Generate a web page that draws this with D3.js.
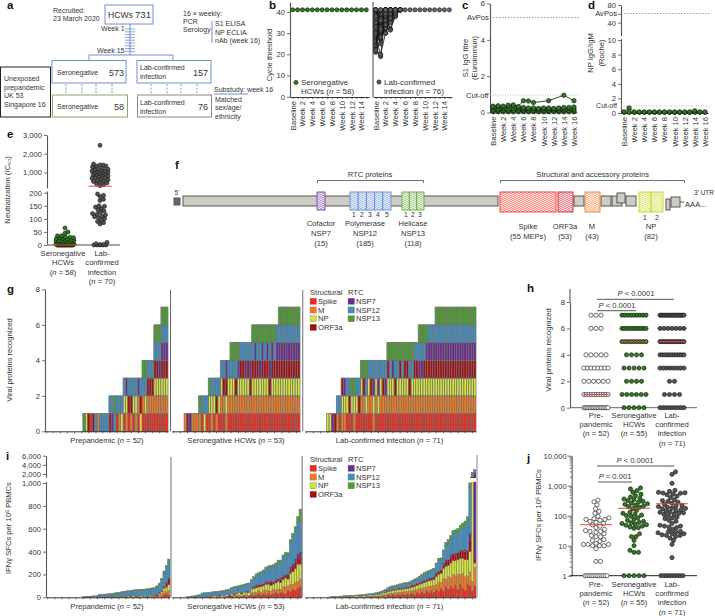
<!DOCTYPE html>
<html>
<head>
<meta charset="utf-8">
<script src="https://cdn.jsdelivr.net/npm/d3@7"></script>
<style>
  body { margin: 0; background: #fff; }
  text { font-family: "Liberation Sans", Arial, sans-serif; font-size: 7.6px; fill: #333; }
</style>
</head>
<body>
<div id="chart"></div>
<script>
// ---- data ----
var weekLabels = ['Baseline','','Week 2','','Week 4','','Week 6','','Week 8','','Week 10','','Week 12','','Week 14','','Week 16'];
var ctUndetected = 41;
// PCR cycle threshold from baseline until negative again
var labCtTraces = [[21,27,41],[23,19,41],[28,20,30,41],[25,30,35,41],[30,28,33,38,41],[33,25,36,41],[35,30,36,41],
  [38,32,37,41],[41,35,38,41],[40,29,34,39,41],[27,33,37,41],[29,36,33,38,41],[31,34,38,41],[36,28,35,40,41],[39,37,41],
  [34,38,32,37,41],[37,31,36,41],[26,35,41],[32,39,41],[24,40,41],[41,33,37,32,39,41],[41,38,39,31.5,38,41],
  [41,36,30,36,40,41],[35,37,38,35,38,41],[38,39,36,39,40,41],[30,32,34,37,39,41],[22,41],[33,36,39,37,40,41]];

var s1Traces = [
  [.05,.05,.06,.05,.05,.06,.05,.05,.06,.05,.05,.05,.06,.05,.05,.06,.05],
  [.1,.12,.1,.1,.12,.1,.12,.1,.1,.12,.1,.1,.12,.1,.12,.1,.1],
  [.2,.2,.22,.2,.22,.2,.2,.2,.2,.2,.2,.2,.2,.2,.2,.22,.2],
  [.3,.33,.3,.33,.35,.28,.28,.25,.25,.22,.25,.25,.22,.25,.28,.28,.3],
  [.35,.37,.35,.4,.42,.33,.65,.63,.55,null,null,.65,null,null,.95,null,.65]
];
var npTraces = [
  [.1,.1,.1,.1,.1,.1,.1,.1,.1,.1,.1,.1,.1,.1,.1,.1,.1],
  [.15,.7,.15,.15,.15,.15,.15,.15,.15,.15,.15,.15,.15,.15,.3,.15,.15]
];

var neutSero = [65,50,45,35,35,30,30,28,28,25,25,22,20,20,18,18,16,15,15,12,12,12,10,10,10,8,8,8,5,5,5,5,3,3,3,2,2,2,
  0,0,0,0,0,0,0,0,0,0,0,0,0,0,0,0,0,0,0,0];
var neutLab = [2450,1450,1400,1400,1350,1350,1300,1250,1200,1180,1150,1100,1100,1080,1050,1020,1000,1000,950,950,900,880,
  850,820,800,750,720,700,650,620,600,550,520,500,450,400,350,300,195,190,185,175,170,150,148,145,140,135,130,125,120,118,115,
  110,108,105,100,95,90,85,80,10,5,2,2,0,0,0,0,0];
var neutMedians = [0, 270];

var proteins = ['Spike','M','NP','ORF3a','NSP7','NSP12','NSP13'];
var proteinCodes = ['S','M','N','O','7','2','3'];
var proteinColours = ['#ee2a1c','#ee7a22','#d3e23f','#a50f14','#6a2c90','#3f8fc2','#4aa02c'];

// panel g, one string per donor, one character per recognised protein
var gPreEmpty = 16;
var gPre = ['3','N','O','S','O','2','M','2','2','2','2',
  'O2','72','32','S2','M2','N2',
  'SN2','MN7','SO2','MO2','SN2','MN2','SM7','NO2',
  'SM23','SN23','SMO2','SMO2','SMO2',
  'SMNO23','SMNO23','SMN723',
  'SMNO723','SMNO723','SMNO723'];
var gSeroEmpty = 5;
var gSero = ['M','O','7','M','M','M',
  'M3','S2','N2','S2',
  'SN3','MN2','SN2','MO2','SN2',
  'SMN2','SMO2','MNO7','SMN2',
  'SMN23','SMN23','SMO23','SMN73','SMNO2','SMNO2','SMN72','SMNO2','SMO72',
  'SMNO23','SMNO73','SMNO23','SMN723','SMNO73','SMNO23','SMNO73','SMO723','SMNO73','SMNO23','SMNO72',
  'SMNO723','SMNO723','SMNO723','SMNO723','SMNO723','SMNO723','SMNO723','SMNO723','SMNO723'];
var gLabEmpty = 9;
var gLab = ['N','N','7','O',
  'M2','S2',
  'MNO','MN7','SN2','SO2','SN3','MN3','SN2','SO2',
  'SMN3','SMO3','SN23','SMN2','SMO2','MN72','SMN2','SN72','SMN2','SMO2','SM72',
  'SMNO3','SMN23','SMN73','SMO23','SMN23','SMNO3','SMN23','SMNO3','SMNO3','SMO23','SMN23','SMNO2','SMNO2',
  'SMN723','SMN723','SMNO23','SMNO73','SMNO72','SMNO72','SMNO72',
  'SMNO723','SMNO723','SMNO723','SMNO723','SMNO723','SMNO723','SMNO723','SMNO723','SMNO723',
  'SMNO723','SMNO723','SMNO723','SMNO723','SMNO723','SMNO723','SMNO723','SMNO723'];
var recognisedMedians = [1, 5, 5];

// panel i, per donor: Spike, M, NP, ORF3a, NSP7, NSP12, NSP13
var iPreEmpty = 15;
var iPre = [[0,0,0,0,0,6,0],[0,2,0,0,0,6,0],[3,0,0,0,0,6,0],[0,0,0,0,4,6,0],[0,0,0,0,0,12,0],[0,0,6,0,0,8,0],
  [0,0,0,0,0,18,0],[0,0,0,0,4,16,4],[0,6,0,0,0,20,0],[0,0,0,6,0,22,0],[0,0,0,0,0,24,6],[4,0,0,0,6,22,0],
  [0,0,0,0,8,19,8],[0,6,0,0,0,26,6],[0,0,0,0,0,28,12],[0,0,8,0,0,24,12],[6,0,0,4,0,30,8],[0,0,10,0,6,28,8],
  [0,8,0,0,0,39,8],[0,0,12,0,0,38,8],[8,0,0,6,0,40,6],[0,0,14,0,0,44,6],[0,10,0,0,6,50,0],[0,0,0,8,0,52,8],
  [0,0,16,0,4,44,6],[0,12,0,0,0,52,6],[6,0,8,0,0,52,6],[0,0,0,0,10,57,8],[0,14,10,0,0,46,8],[8,0,0,0,0,66,8],
  [0,16,0,8,0,55,6],[20,0,0,0,8,60,12],[0,20,16,10,0,62,17],[0,30,20,12,0,90,13],[24,26,30,14,0,110,26],
  [30,20,40,40,10,130,10],[20,40,50,50,15,125,35]];
var iSeroEmpty = 6;
var iSero = [[0,0,0,0,0,5,0],[0,0,3,0,0,5,0],[0,0,0,4,0,8,0],[0,4,0,0,0,12,0],[0,0,0,0,6,14,0],[6,0,0,0,0,20,0],
  [0,0,8,0,0,24,6],[0,6,0,0,0,34,0],[0,0,0,6,0,30,6],[8,0,0,0,0,36,0],[0,12,0,6,0,30,0],[0,0,14,0,0,30,6],
  [0,16,0,0,6,24,6],[12,0,0,8,0,35,0],[0,0,16,0,0,32,10],[0,14,0,0,0,38,10],[10,0,14,0,0,36,8],[0,0,0,20,0,42,10],
  [12,0,18,0,0,45,10],[0,20,0,15,0,50,10],[14,0,20,0,8,46,10],[0,18,22,0,0,55,10],[10,0,20,15,0,53,10],
  [20,0,26,0,0,59,10],[0,24,18,14,0,54,10],[14,0,30,0,6,65,10],[22,18,30,0,0,75,10],[16,24,36,20,0,74,10],
  [24,20,40,16,10,85,10],[30,26,34,20,0,90,15],[20,24,50,18,10,88,15],[30,30,40,20,0,105,15],[24,40,50,16,12,108,15],
  [36,20,60,20,0,119,20],[20,34,50,30,14,112,20],[30,40,46,20,0,129,20],[40,26,60,24,10,120,20],[30,40,70,25,0,140,20],
  [44,24,60,30,12,136,20],[40,50,64,26,14,156,20],[30,60,80,30,0,170,20],[60,40,60,36,15,160,20],[50,60,100,40,20,205,30],
  [70,44,110,50,20,236,30],[60,70,120,60,30,238,40],[80,60,150,60,30,275,50],[90,70,130,70,40,272,100]];
var iLabEmpty = 10;
var iLab = [[0,0,5,0,0,0,0],[0,0,0,6,0,0,0],[0,4,4,0,0,0,0],[0,0,10,0,0,0,0],[4,0,6,0,0,0,0],[0,6,6,0,0,0,0],
  [0,0,8,0,0,6,0],[10,0,5,0,0,0,0],[0,0,10,6,0,0,0],[0,8,0,0,0,10,0],[6,0,12,0,0,0,0],[0,0,14,0,0,6,0],
  [0,10,6,0,0,6,0],[8,0,8,6,0,0,0],[0,0,15,0,0,10,0],[0,8,10,0,0,10,0],[6,0,14,0,0,10,0],[0,10,12,0,0,10,0],
  [8,0,12,5,0,10,0],[0,12,14,0,0,14,0],[10,0,15,0,0,12,8],[0,14,16,0,0,12,8],[12,10,18,0,0,14,6],[0,20,20,0,8,14,8],
  [20,10,20,10,0,15,10],[15,20,20,8,0,22,10],[24,12,24,10,0,20,10],[18,22,22,8,0,25,10],[26,14,28,10,0,22,10],
  [20,24,24,12,0,28,10],[30,16,26,10,0,30,10],[20,30,24,14,0,30,10],[34,16,28,10,6,26,10],[22,30,30,12,0,31,10],
  [36,20,34,18,0,32,10],[24,40,32,14,0,40,10],[44,24,36,16,6,34,10],[30,44,40,18,0,43,10],[50,26,44,20,0,50,10],
  [34,50,46,20,0,50,15],[56,30,50,22,0,52,15],[40,56,48,16,10,50,15],[60,34,56,20,0,60,15],[44,60,50,24,0,62,15],
  [70,40,70,30,10,65,15],[50,80,70,30,0,90,20],[80,50,80,30,0,85,20],[60,100,90,40,15,90,20],[90,70,110,40,20,120,30],
  [70,110,100,50,0,145,30],[100,70,130,50,20,140,30],[80,120,120,60,0,173,30],[110,80,130,50,20,170,30],
  [70,130,130,60,0,180,30],[120,80,140,60,20,182,30],[80,130,130,70,0,200,40],[60,120,150,70,20,207,40],
  [120,70,140,80,0,245,50],[100,120,180,100,60,400,40],[60,80,1600,80,80,400,100],[100,160,40,40,1900,760,0]];

// panel j
var sfcPre = [1,1,1,1,1,1,1,1,1,1,1,1,3,3,8,10,10,10,11,11,11,12,14,15,16,20,20,22,25,28,30,30,32,35,40,45,50,55,60,65,
  70,75,75,80,85,95,120,140,170,230,290,330];
var sfcSero = [1,1,1,1,1,6,6,7,10,15,20,20,25,38,40,42,45,48,50,52,55,58,60,65,70,75,85,95,100,105,110,120,130,150,170,190,
  200,210,220,240,250,260,280,300,320,340,360,380,420,460,520,600,680,780,840];
var sfcLab = [1,1,1,1,1,1,1,1,1,4,11,15,18,20,22,22,23,25,25,27,28,30,30,35,40,42,45,45,48,55,65,70,80,85,90,100,110,115,120,
  125,130,135,140,150,160,170,175,180,190,200,210,220,240,260,280,300,320,340,400,450,500,520,560,570,580,600,650,700,1200,2400,2900];
var sfcMedians = [50, 177, 250];

var groupLabels = ['Prepandemic (*n* = 52)','Seronegative HCWs (*n* = 53)','Lab-confirmed infection (*n* = 71)'];

// ---- helpers ----
var svg = d3.select('#chart').append('svg')
  .attr('width', 715)
  .attr('height', 616)
  .style('display', 'block');

// *word* in a label comes out in italics
function label(parent, x, y, str, anchor, size) {
  var t = parent.append('text')
    .attr('x', x)
    .attr('y', y)
    .attr('text-anchor', anchor || 'start');
  if (size) t.style('font-size', size + 'px');
  str.split('*').forEach(function(part, i) {
    t.append('tspan').text(part).style('font-style', i % 2 ? 'italic' : 'normal');
  });
  return t;
}

function vlabel(x, y, str) {
  return label(svg, 0, 0, str, 'middle').attr('transform', 'translate(' + x + ',' + y + ') rotate(-90)');
}

function panelLetter(letter, x, y) {
  label(svg, x, y, letter, 'start', 11.5).style('font-weight', 'bold').style('fill', '#111');
}

function line(parent, x1, y1, x2, y2, colour, w, dash) {
  return parent.append('line')
    .attr('x1', x1).attr('y1', y1).attr('x2', x2).attr('y2', y2)
    .attr('stroke', colour || '#333')
    .attr('stroke-width', w || 1)
    .attr('stroke-dasharray', dash || null);
}

function styleAxis(g, colour, width) {
  g.attr('font-family', null).attr('font-size', null);
  g.select('.domain').attr('stroke', colour || '#555').attr('stroke-width', width || 1.1);
  g.selectAll('.tick line').attr('stroke', '#333').attr('stroke-width', 0.7);
  g.selectAll('.tick text').attr('fill', null);
  return g;
}

function yAxis(x, scale, values, format) {
  var g = svg.append('g')
    .attr('transform', 'translate(' + x + ',0)')
    .call(d3.axisLeft(scale).tickValues(values).tickSize(3).tickSizeOuter(0).tickPadding(2).tickFormat(format || d3.format(',')));
  return styleAxis(g);
}

function weekAxis(y, scale) {
  var g = svg.append('g')
    .attr('transform', 'translate(0,' + y + ')')
    .call(d3.axisBottom(scale).tickSize(2).tickSizeOuter(0).tickFormat(function(d) { return weekLabels[d]; }));
  styleAxis(g, '#222', 0.9);
  g.selectAll('.tick text')
    .attr('transform', 'rotate(-90)')
    .attr('x', -4)
    .attr('y', 0)
    .attr('dy', '.32em')
    .attr('text-anchor', 'end');
}

function dots(parent, data, cx, cy, fill, r) {
  parent.selectAll(null)
    .data(data)
    .enter().append('circle')
    .attr('cx', cx)
    .attr('cy', cy)
    .attr('r', r)
    .attr('fill', fill)
    .attr('stroke', '#111')
    .attr('stroke-width', 0.6);
}

function traces(data, xs, y, fill) {
  data.forEach(function(tr) {
    var keep = tr.map(function(v, i) { return { v: v, i: i }; }).filter(function(d) { return d.v != null; });
    svg.append('path')
      .attr('d', d3.line().x(function(d) { return xs(d.i); }).y(function(d) { return y(d.v); })(keep))
      .attr('fill', 'none')
      .attr('stroke', '#111')
      .attr('stroke-width', 0.8);
    dots(svg, keep, function(d) { return xs(d.i); }, function(d) { return y(d.v); }, fill, 2.2);
  });
}

// horizontal offsets of a swarm; the floor value is laid out in one flat row
function swarm(values, y, floor, rowWidth, maxW, r) {
  var placed = [];
  var onFloor = values.filter(function(v) { return v === floor; }).length;
  var k = 0;
  return values.slice().sort(d3.ascending).map(function(v) {
    var yy = y(v), off;
    if (v === floor) {
      off = onFloor > 1 ? (k - (onFloor - 1) / 2) * Math.min(rowWidth / (onFloor - 1), 5) : 0;
      k++;
      return { v: v, y: yy, off: off };
    }
    var best = 0, bestD = -1;
    for (var s = 0; s <= maxW * 4; s++) {
      var c = (s % 2 ? 1 : -1) * Math.ceil(s / 2) * 0.5;
      var dmin = d3.min(placed, function(p) { return Math.hypot(p.off - c, p.y - yy); });
      if (dmin === undefined) dmin = 99;
      if (dmin >= r * 2) { best = c; bestD = dmin; break; }
      if (dmin > bestD) { best = c; bestD = dmin; }
    }
    placed.push({ off: best, y: yy });
    return { v: v, y: yy, off: best };
  });
}

// ---- a ----
panelLetter('a', 7, 9);
var blue = '#6f8fd0';
function box(x, y, w, h, colour) {
  svg.append('rect').attr('x', x).attr('y', y).attr('width', w).attr('height', h)
    .attr('fill', '#fff').attr('stroke', colour).attr('stroke-width', 1);
}
label(svg, 53, 13, 'Recruited:', 'start', 7);
label(svg, 53, 21, '23 March 2020', 'start', 7);
line(svg, 130, 24, 130, 55, blue);
d3.range(29, 53, 2.8).forEach(function(y) { line(svg, 125, y, 135, y, blue, 0.8); });
box(105, 5, 48, 19, blue);
label(svg, 108, 18, 'HCWs', 'start', 8.6);
label(svg, 151, 18, '731', 'end', 9.6);
label(svg, 101, 31, 'Week 1', 'start', 7);
label(svg, 97, 53, 'Week 15', 'start', 7);
line(svg, 89, 55, 173, 55, blue);
line(svg, 89, 55, 89, 60, blue);
line(svg, 173, 55, 173, 60, blue);
[66, 82, 96, 112, 151, 167, 181, 197].forEach(function(x) { line(svg, x, 84, x, 95, blue, 0.9, '2,1.5'); });
box(52, 60.5, 74, 22.5, blue);
box(137, 60.5, 74, 22.5, blue);
box(52.5, 95, 75, 22, '#8aa86a');
box(137.5, 95, 74, 22, '#888');
box(0.5, 67, 50, 50, '#222');
['Unexposed','prepandemic','UK 53','Singapore 16'].forEach(function(s, i) { label(svg, 4, 81 + i * 8.7, s, 'start', 7); });
label(svg, 57, 75, 'Seronegative', 'start', 7);
label(svg, 124, 75.5, '573', 'end', 9);
label(svg, 140, 70, 'Lab-confirmed', 'start', 7);
label(svg, 140, 79, 'infection', 'start', 7);
label(svg, 208, 76, '157', 'end', 9);
label(svg, 57, 109, 'Seronegative', 'start', 7);
label(svg, 124, 109.5, '58', 'end', 9);
label(svg, 140, 105, 'Lab-confirmed', 'start', 7);
label(svg, 140, 114, 'infection', 'start', 7);
label(svg, 208, 110, '76', 'end', 9);
label(svg, 183, 16, '16 \u00d7 weekly:', 'start', 7);
label(svg, 183, 24, 'PCR', 'start', 7);
label(svg, 183, 32, 'Serology', 'start', 7);
line(svg, 212, 21, 212, 43, blue);
label(svg, 215, 26, 'S1 ELISA', 'start', 7);
label(svg, 215, 35, 'NP ECLIA', 'start', 7);
label(svg, 215, 43, 'nAb (week 16)', 'start', 7);
label(svg, 214, 92, 'Substudy: week 16', 'start', 7);
line(svg, 214, 94, 248, 94, blue);
label(svg, 215, 102, 'Matched', 'start', 7);
label(svg, 215, 110, 'sex/age/', 'start', 7);
label(svg, 215, 119, 'ethnicity', 'start', 7);

// ---- b ----
panelLetter('b', 269, 9);
var ctY = d3.scaleLinear().domain([0, 44.7]).range([96.7, 2]);
var ctWeeks = d3.range(16);
var ctLeft = d3.scalePoint().domain(ctWeeks).range([290, 369]).padding(0.55);
var ctRight = d3.scalePoint().domain(ctWeeks).range([373, 452]).padding(0.55);
yAxis(290, ctY, [0, 10, 20, 30, 40], d3.format('d'));
line(svg, 373, 2, 373, 97, '#555', 1.1);
weekAxis(97, ctLeft);
weekAxis(97, ctRight);
vlabel(272, 55, 'Cycle threshold');
svg.append('path')
  .attr('d', d3.line().x(ctLeft).y(ctY(ctUndetected))(ctWeeks))
  .attr('stroke', '#111').attr('stroke-width', 0.6).attr('fill', 'none');
dots(svg, ctWeeks, ctLeft, ctY(ctUndetected), '#2e7d1e', 2.1);
traces(labCtTraces, ctRight, ctY, '#555');
dots(svg, ctWeeks, ctRight, ctY(ctUndetected), '#666', 2.1);
dots(svg, [0], 296, 82.5, '#2e7d1e', 2.1);
label(svg, 301, 85, 'Seronegative', 'start', 8);
label(svg, 301, 94, 'HCWs (*n* = 58)', 'start', 8);
dots(svg, [0], 379, 82, '#555', 2.1);
label(svg, 384, 84.5, 'Lab-confirmed', 'start', 8);
label(svg, 384, 93.5, 'infection (*n* = 76)', 'start', 8);

// ---- c ----
panelLetter('c', 462, 9);
var s1Y = d3.scaleLinear().domain([0, 6]).range([112.5, 3.5]);
var weeks17 = d3.range(17);
var s1X = d3.scalePoint().domain(weeks17).range([490, 577]).padding(0.6);
yAxis(490, s1Y, [0, 2, 4, 6], d3.format('d'));
weekAxis(112.5, s1X);
line(svg, 490, 17.5, 580, 17.5, '#777', 0.7, '1.5,1.5');
line(svg, 490, 95, 580, 95, '#999', 0.7, '1,1.5');
label(svg, 467, 19.5, 'AvPos');
label(svg, 466, 97.5, 'Cut-off');
vlabel(468, 58, 'S1 IgG titre');
vlabel(477, 58, '(Euroimmun)');
traces(s1Traces, s1X, s1Y, '#2e7d1e');

// ---- d ----
panelLetter('d', 588, 9);
var npY = d3.scaleLinear().domain([0, 10, 12, 80]).range([113, 40, 35, 5]);
var npX = d3.scalePoint().domain(weeks17).range([621, 708]).padding(0.6);
// the 60 tick carries no number, AvPos sits there
yAxis(621, npY, [0, 2, 4, 6, 8, 10, 40, 60, 80], function(d) { return d === 60 ? '' : d; });
svg.append('rect').attr('x', 619).attr('y', 36).attr('width', 4).attr('height', 3).attr('fill', '#fff');
weekAxis(113, npX);
line(svg, 621, 13.5, 710, 13.5, '#777', 0.7, '1.5,1.5');
line(svg, 621, 106, 710, 106, '#999', 0.7, '1,1.5');
label(svg, 617, 15.8, 'AvPos', 'end');
label(svg, 617, 108, 'Cut-off', 'end', 7);
vlabel(593, 53, 'NP IgG/IgM');
vlabel(604, 53, '(Roche)');
traces(npTraces, npX, npY, '#2e7d1e');

// ---- e ----
panelLetter('e', 7, 138);
var neutY = d3.scaleLinear().domain([0, 200, 201, 3000]).range([245, 192.7, 187.5, 135]);
var neutCentres = [65, 100];
yAxis(47, neutY, [0, 50, 100, 150, 200, 1000, 2000, 3000]);
svg.append('rect').attr('x', 45).attr('y', 188.5).attr('width', 5).attr('height', 3).attr('fill', '#fff');
line(svg, 47, 245, 120, 245, '#888', 1.4);
vlabel(10, 190, 'Neutralization (IC\u2085\u2080)');
[neutSero, neutLab].forEach(function(vals, g) {
  var cx = neutCentres[g];
  var pts = swarm(vals, neutY, 0, g ? 12 : 16, g ? 8 : 9, g ? 1.8 : 1.6);
  dots(svg, pts, function(d) { return cx + d.off; }, function(d) { return d.y; }, g ? '#555' : '#2e7d1e', 2);
  line(svg, cx - 11.5, neutY(neutMedians[g]), cx + 11.5, neutY(neutMedians[g]), '#e8413a', 1);
});
['Seronegative', 'HCWs', '(*n* = 58)'].forEach(function(s, i) { label(svg, 63, 256 + i * 9.4, s, 'middle'); });
['Lab-', 'confirmed', 'infection', '(*n* = 70)'].forEach(function(s, i) { label(svg, 102, 256 + i * 9.4, s, 'middle'); });

// ---- f ----
panelLetter('f', 175, 169);
var defs = svg.append('defs');
function hatch(id, colour) {
  var p = defs.append('pattern').attr('id', id).attr('width', 4).attr('height', 4).attr('patternUnits', 'userSpaceOnUse');
  p.append('rect').attr('width', 4).attr('height', 4).attr('fill', '#fff');
  p.append('path').attr('d', 'M0,1 Q1,0 2,1 T4,1 M0,3 Q1,2 2,3 T4,3').attr('fill', 'none').attr('stroke', colour).attr('stroke-width', 0.7);
}
// schematic layout of the genome, not measured data
var genomeGrey = [[174,198,6,7],[183,196,315,10],[574,196,10,10],[601,196,10,10],[612,196,10,10],[617,193,8,10],[626,196,10,10],[666,199,4,11],[671,197,9,10]];
var proteinBlocks = [
  { id: 'h7', colour: '#7b45a8', x: 317, y: 192, w: 8, h: 18, cells: 1 },
  { id: 'h12', colour: '#5f8fd8', x: 350, y: 192, w: 41, h: 18, cells: 5 },
  { id: 'h13', colour: '#6cab3f', x: 402, y: 192, w: 22, h: 18, cells: 3 },
  { id: 'hs', colour: '#f4352a', x: 500, y: 192, w: 56, h: 20, cells: 1 },
  { id: 'ho', colour: '#d4202a', x: 558, y: 192, w: 15, h: 20, cells: 1 },
  { id: 'hm', colour: '#f08030', x: 585, y: 192, w: 15, h: 20, cells: 1 },
  { id: 'hn', colour: '#c4d820', x: 639, y: 192, w: 24, h: 20, cells: 2 }
];
genomeGrey.forEach(function(d, i) {
  svg.append('rect').attr('x', d[0]).attr('y', d[1]).attr('width', d[2]).attr('height', d[3])
    .attr('fill', i === 0 ? '#666' : '#cfccc4').attr('stroke', '#555').attr('stroke-width', 1);
});
proteinBlocks.forEach(function(d) {
  hatch(d.id, d.colour);
  var cw = d.w / d.cells;
  d3.range(d.cells).forEach(function(i) {
    svg.append('rect').attr('x', d.x + i * cw).attr('y', d.y).attr('width', cw).attr('height', d.h)
      .attr('fill', 'url(#' + d.id + ')').attr('stroke', d.colour).attr('stroke-width', 0.9);
  });
});
line(svg, 680, 202, 684, 202, '#555', 1);
label(svg, 177, 195, "5'", 'middle', 6.5);
label(svg, 694, 195, "3' UTR", 'start', 6.5);
label(svg, 685, 207, 'AAA...');
svg.append('path').attr('d', 'M317.5,183V180.5H423.5V183M500.5,183V180.5H684.5V183').attr('fill', 'none').attr('stroke', '#333').attr('stroke-width', 0.7);
label(svg, 370, 177, 'RTC proteins', 'middle');
label(svg, 592.7, 177, 'Structural and accessory proteins', 'middle');
[354,362,370,378,387,406,413,420].forEach(function(x, i) {
  label(svg, x, 216.5, String(i < 5 ? i + 1 : i - 4), 'middle', 6.8);
});
label(svg, 645, 219.5, '1', 'middle', 6.8);
label(svg, 657, 219.5, '2', 'middle', 6.8);
[[321, ['Cofactor','NSP7','(15)'], 226],[365, ['Polymerase','NSP12','(185)'], 226],[413, ['Helicase','NSP13','(118)'], 226],
 [528, ['Spike','(55 MEPs)'], 229],[565, ['ORF3a','(53)'], 229],[592, ['M','(43)'], 229],[651, ['NP','(82)'], 229]].forEach(function(d) {
  d[1].forEach(function(s, i) { label(svg, d[0], d[2] + i * 10, s, 'middle'); });
});

// ---- g and i share the stacked strips ----
var stack = d3.stack().keys(d3.range(7));
function emptyRows(n) { return d3.range(n).map(function() { return [0,0,0,0,0,0,0]; }); }
function toFlags(str) {
  return proteinCodes.map(function(c) { return str.indexOf(c) >= 0 ? 1 : 0; });
}
function strips(rows, x0, x1, y, stroke, strokeW, axisY) {
  var x = d3.scaleBand().domain(d3.range(rows.length)).range([x0, x1]);
  var g = svg.append('g');
  stack(rows).forEach(function(layer, k) {
    g.selectAll(null)
      .data(layer.map(function(d, i) { return { a: d[0], b: d[1], i: i }; }).filter(function(d) { return d.b > d.a; }))
      .enter().append('rect')
      .attr('x', function(d) { return x(d.i); })
      .attr('width', x.bandwidth())
      .attr('y', function(d) { return y(d.b); })
      .attr('height', function(d) { return y(d.a) - y(d.b); })
      .attr('fill', proteinColours[k])
      .attr('stroke', stroke)
      .attr('stroke-width', strokeW);
  });
  var ax = svg.append('g')
    .attr('transform', 'translate(0,' + axisY + ')')
    .call(d3.axisBottom(x).tickValues(d3.range(0, rows.length, 3)).tickSize(2).tickSizeOuter(0).tickFormat(''));
  styleAxis(ax, '#222', 0.9);
}
function legend(top) {
  label(svg, 310, top, 'Structural');
  label(svg, 348, top, 'RTC');
  proteins.forEach(function(p, i) {
    var left = i < 4;
    var sx = left ? 310 : 348;
    var sy = top + 3.2 + (left ? i : i - 4) * 8.7;
    svg.append('rect').attr('x', sx).attr('y', sy).attr('width', 6.5).attr('height', 6.2)
      .attr('fill', proteinColours[i]).attr('stroke', '#777').attr('stroke-width', 0.3);
    label(svg, sx + 8, sy + 5.8, p);
  });
}

// ---- g ----
panelLetter('g', 7, 293);
var gY = d3.scaleLinear().domain([0, 8]).range([431.3, 289.3]);
yAxis(45, gY, [0, 2, 4, 6, 8], d3.format('d'));
vlabel(12, 360, 'Viral proteins recognized');
strips(emptyRows(gPreEmpty).concat(gPre.map(toFlags)), 45, 168, gY, '#6e6e6e', 0.7, 431.3);
strips(emptyRows(gSeroEmpty).concat(gSero.map(toFlags)), 172, 300, gY, '#6e6e6e', 0.7, 431.3);
strips(emptyRows(gLabEmpty).concat(gLab.map(toFlags)), 305, 476, gY, '#6e6e6e', 0.7, 431.3);
line(svg, 170.5, 290, 170.5, 431.3, '#444', 0.8);
line(svg, 302.7, 290, 302.7, 431.3, '#888', 1.2);
label(svg, 107, 443, groupLabels[0], 'middle');
label(svg, 236, 443, groupLabels[1], 'middle');
label(svg, 389.5, 443, groupLabels[2], 'middle');
legend(295);

// ---- i ----
panelLetter('i', 6, 460);
var iY = d3.scaleLinear().domain([0, 1000, 2000, 6000]).range([597.3, 483, 474, 455.7]);
yAxis(46, iY, [0, 200, 400, 600, 800, 1000, 2000, 4000, 6000]);
vlabel(11, 528, 'IFN\u03b3 SFCs per 10\u2076 PBMCs');
strips(emptyRows(iPreEmpty).concat(iPre), 46.5, 170, iY, '#6e6e6e', 0.45, 597.3);
strips(emptyRows(iSeroEmpty).concat(iSero), 172, 301.5, iY, '#6e6e6e', 0.45, 597.3);
strips(emptyRows(iLabEmpty).concat(iLab), 305, 476, iY, '#6e6e6e', 0.45, 597.3);
svg.append('rect').attr('x', 44).attr('y', 477.8).attr('width', 435).attr('height', 4).attr('fill', '#fff');
line(svg, 470, 477.5, 476, 477.5, '#222', 0.7);
line(svg, 171, 457, 171, 597.3, '#888', 1.2);
line(svg, 302.2, 456, 302.2, 597.3, '#333', 0.7);
line(svg, 477, 455, 477, 597.3, '#888', 1);
label(svg, 107, 609, groupLabels[0], 'middle');
label(svg, 236, 609, groupLabels[1], 'middle');
label(svg, 389.5, 609, groupLabels[2], 'middle');
legend(462);

// ---- h and j share categories ----
var sideX = d3.scaleBand().domain([0, 1, 2]).range([577, 691]);
var sideFill = ['#fff', '#2e7d1e', '#555'];
function sideCentre(g) { return sideX(g) + sideX.bandwidth() / 2; }
function sideLabels(top) {
  [['Pre-','pandemic','(*n* = 52)'],['Seronegative','HCWs','(*n* = 55)'],['Lab-','confirmed','infection','(*n* = 71)']].forEach(function(rows, g) {
    rows.forEach(function(s, i) { label(svg, sideCentre(g), top + i * 9.2, s, 'middle'); });
  });
}
function pBar(x1, x2, y, txt, tx) {
  line(svg, x1, y, x2, y, '#555', 1);
  label(svg, tx, y - 3, txt, 'middle');
}

// ---- h ----
panelLetter('h', 527, 292);
var hY = d3.scaleLinear().domain([0, 8]).range([407.7, 302]);
yAxis(570, hY, [0, 2, 4, 6, 8], d3.format('d'));
line(svg, 570, 289, 570, 302, '#555', 1.1);
line(svg, 570, 407.7, 697, 407.7, '#666', 1);
vlabel(550.7, 350, 'Viral proteins recognized');
[[gPre, gPreEmpty], [gSero, gSeroEmpty], [gLab, gLabEmpty]].forEach(function(d, g) {
  var counts = d3.rollup(d[0], function(v) { return v.length; }, function(s) { return s.length; });
  counts.set(0, d[1]);
  var pts = [];
  counts.forEach(function(n, level) {
    var step = n > 1 ? Math.min(5, 24 / (n - 1)) : 0;
    d3.range(n).forEach(function(i) { pts.push({ level: level, off: (i - (n - 1) / 2) * step }); });
  });
  dots(svg, pts, function(p) { return sideCentre(g) + p.off; }, function(p) { return hY(p.level); }, sideFill[g], 2.1);
  line(svg, sideCentre(g) - 13, hY(recognisedMedians[g]), sideCentre(g) + 13, hY(recognisedMedians[g]), '#e8413a', 1);
});
pBar(597, 674, 299.3, '*P* < 0.0001', 636);
pBar(597, 636, 310.7, '*P* < 0.0001', 617);
sideLabels(418);

// ---- j ----
panelLetter('j', 527, 462);
var jY = d3.scaleLog().domain([1, 10000]).range([575.7, 455.7]);
var jTicks = [1,2,3,4,5,6,7,8,9,10,20,30,40,50,60,70,80,90,100,200,300,400,500,600,700,800,900,1000,2000,3000,4000,5000,6000,7000,8000,9000,10000];
var majors = [1, 10, 100, 1000, 10000];
var jAxis = yAxis(571.7, jY, jTicks, function(d) { return majors.indexOf(d) >= 0 ? d3.format(',')(d) : ''; });
jAxis.selectAll('.tick line').attr('x2', function(d) { return majors.indexOf(d) >= 0 ? -4 : -2; });
line(svg, 570, 575.7, 697, 575.7, '#222', 1);
vlabel(541, 515, 'IFN\u03b3 SFCs per 10\u2076 PBMCs');
[sfcPre, sfcSero, sfcLab].forEach(function(vals, g) {
  var pts = swarm(vals, jY, 1, g === 1 ? 20 : 22, 14, 2.1);
  dots(svg, pts, function(d) { return sideCentre(g) + d.off; }, function(d) { return d.y; }, sideFill[g], 2.1);
  line(svg, sideCentre(g) - 16, jY(sfcMedians[g]), sideCentre(g) + 16, jY(sfcMedians[g]), '#e8413a', 1);
});
pBar(597, 674, 466, '*P* < 0.0001', 635);
pBar(598, 632, 482, '*P* = 0.001', 615);
sideLabels(587);
</script>
</body>
</html>
